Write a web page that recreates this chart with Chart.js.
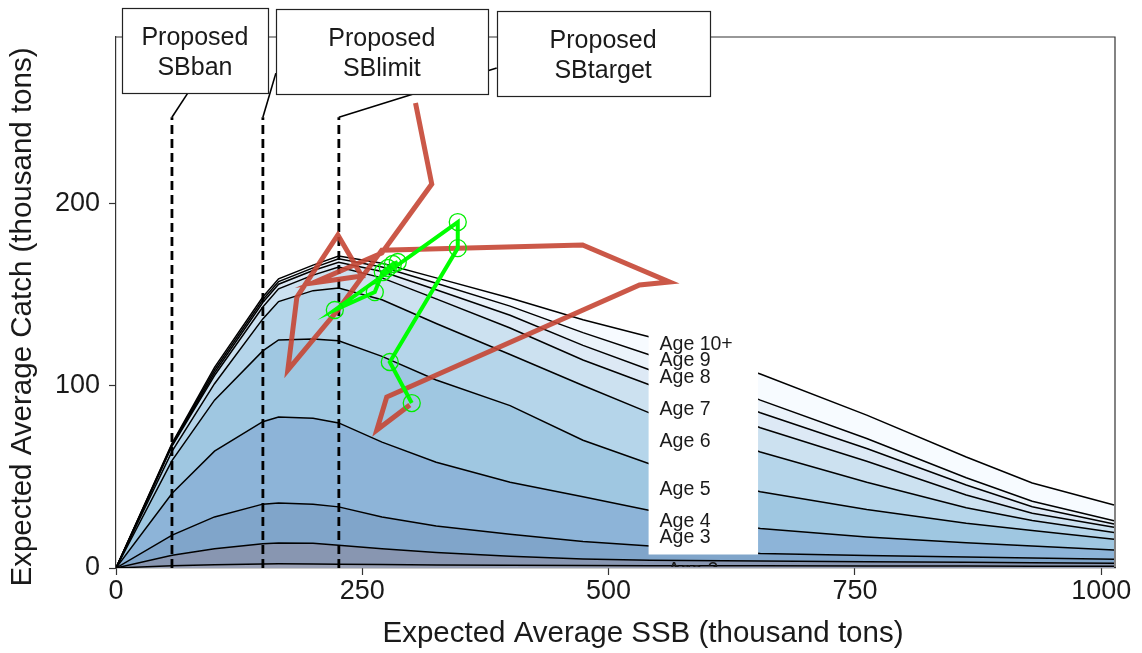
<!DOCTYPE html>
<html>
<head>
<meta charset="utf-8">
<script src="https://cdn.jsdelivr.net/npm/chart.js@4/dist/chart.umd.min.js"></script>
<style>
  html, body { margin: 0; padding: 0; background: #fff; }
  #wrap { width: 1142px; height: 653px; }
</style>
</head>
<body>
<div id="wrap"><canvas id="c" width="1142" height="653"></canvas></div>
<script>
// --- data (thousand tons) ---
const ssb = [0, 57, 100, 149, 165, 200, 226, 270, 325, 400, 474, 542, 654, 762, 863, 930, 1013];

// cumulative expected catch up to each age (bottom line = age 1 ... top line = age 10+)
const uptoAge1  = [0, 1.3, 1.8, 2.2, 2.3, 2.2, 2.1, 1.9, 1.7, 1.5, 1.4, 1.3, 1.2, 1.1, 1.05, 1.0, 1.0];
const uptoAge2  = [0, 7, 10.5, 13.3, 13.7, 13.5, 12.5, 10.5, 8.5, 6.5, 5, 4.3, 3.8, 3.4, 3.1, 2.9, 2.6];
const uptoAge3  = [0, 18, 28, 35, 35.6, 35, 33.5, 28, 23, 18.5, 14.5, 12, 8.0, 6.8, 6, 5.5, 4.8];
const uptoAge4  = [0, 41, 64, 80.2, 82.7, 82, 79.5, 69, 58, 47, 39, 31.5, 21.7, 17, 13.8, 12, 9.9];
const uptoAge5  = [0, 59, 92, 119, 125, 125.5, 124.5, 116, 103, 89, 70, 57, 41.8, 32, 24.5, 20.5, 15.7];
const uptoAge6  = [0, 64, 101, 136.5, 146, 152, 153.5, 147, 134, 117, 100, 84.9, 63.6, 47, 33, 26, 19.5];
const uptoAge7  = [0, 67, 105.5, 143, 153, 160.5, 165, 159, 147.5, 131.5, 114, 100.3, 76.9, 58.5, 40, 30, 22.3];
const uptoAge8  = [0, 67.3, 107, 145.5, 155.5, 163, 167.5, 162.5, 152.5, 138.5, 122, 108.5, 85.1, 65.5, 45.5, 33.6, 24.1];
const uptoAge9  = [0, 68, 108.5, 147, 157, 164.5, 169.5, 165, 156, 143.5, 129, 116.7, 92, 71, 49.5, 36.6, 25.9];
const uptoAge10 = [0, 68.5, 110, 148.5, 158.5, 166, 171, 167, 159, 148, 136, 126.6, 106.3, 83.8, 60.8, 46.6, 34.5];

const ageNames = ['Age 1', 'Age 2', 'Age 3', 'Age 4', 'Age 5', 'Age 6', 'Age 7', 'Age 8', 'Age 9', 'Age 10+'];

// observed trajectory (red) and projected trajectory (green)
const redSSB   = [304, 320.5, 269.8, 199.8, 249.5, 225.2, 183.6, 174.4, 225.2, 269.8, 473.6, 561.9, 531.4, 274.8, 264.7, 298.2];
const redCatch = [254.8, 210.4, 172.6, 156.2, 160, 182.5, 148.5, 108.5, 141.4, 174.2, 177, 156.7, 155.1, 93.7, 75.6, 89.3];
const greenSSB   = [286, 281, 275.9, 270.8, 262.7, 222.1, 346.9, 346.9, 277.9, 300.2];
const greenCatch = [167.7, 166.6, 164.4, 162.2, 151.2, 141.4, 189.6, 175.3, 112.9, 90.4];

// reference points
const refLabels = [['Proposed', 'SBban'], ['Proposed', 'SBlimit'], ['Proposed', 'SBtarget']];
const refSSB = [56.8, 149.1, 226.2];
const refTop = 247;
const refBoxX = [80.1, 269.8, 494.4];
const refBoxY = [283.8, 283.0, 281.9];
const refLinkX = [73.0, 162.3, 386.4];
const refLinkY = [260.4, 271.2, 274.0];

// age labels (Age 10+ down to Age 1)
const ageLabelX = 551.7;
const ageLabelY = [122.2, 113.4, 104.1, 86.6, 69, 42.7, 25.2, 16.4, -1.6, -3.0];
const ageLabelBox = [540.6, 651.7, 7.4, 127.7]; // x0, x1, y0, y1

const xTicks = [0, 250, 500, 750, 1000];
const yTicks = [0, 100, 200];

// --- styles ---
const FONT = '"Liberation Sans", Arial, sans-serif';
const bandColors = ['#9aa1b6', '#8896b1', '#80a5ca', '#8db4d8', '#9fc7e1', '#b5d5ea', '#cce1f0', '#dde9f5', '#ebf3fa', '#f7fbff'];
const boxW = [146, 212, 213];
const boxH = 85;

const uptoAll = [uptoAge1, uptoAge2, uptoAge3, uptoAge4, uptoAge5, uptoAge6, uptoAge7, uptoAge8, uptoAge9, uptoAge10];

const areaSets = [];
for (let i = uptoAll.length - 1; i >= 0; i--) {
  areaSets.push({
    label: ageNames[i],
    data: ssb.map((x, j) => ({ x: x, y: uptoAll[i][j] })),
    borderColor: '#000',
    borderWidth: 1.5,
    pointRadius: 0,
    backgroundColor: bandColors[i],
    fill: i === 0 ? 'origin' : '+1',
    tension: 0
  });
}

const dashSets = refSSB.map(x => ({
  data: [{ x: x, y: 0 }, { x: x, y: refTop }],
  borderColor: '#000',
  borderWidth: 2.8,
  borderDash: [9, 5],
  pointRadius: 0,
  fill: false
}));

const redSet = {
  data: redSSB.map((x, i) => ({ x: x, y: redCatch[i] })),
  borderColor: 'rgba(197,70,52,0.9)',
  borderWidth: 5,
  borderJoinStyle: 'miter',
  pointRadius: 0,
  fill: false
};

const greenSet = {
  data: greenSSB.map((x, i) => ({ x: x, y: greenCatch[i] })),
  borderColor: '#00ff00',
  borderWidth: 4,
  pointRadius: 8.5,
  pointBorderWidth: 1.3,
  pointBorderColor: '#00ee00',
  pointBackgroundColor: 'rgba(0,0,0,0)',
  fill: false
};

const panelBorder = {
  id: 'panelBorder',
  beforeDatasetsDraw(chart) {
    const { ctx, chartArea: a } = chart;
    ctx.save();
    ctx.strokeStyle = '#333';
    ctx.lineWidth = 1.2;
    ctx.beginPath();
    ctx.moveTo(a.left, a.top);
    ctx.lineTo(a.right, a.top);
    ctx.lineTo(a.right, a.bottom);
    ctx.stroke();
    ctx.restore();
  }
};

const annotations = {
  id: 'annotations',
  afterDraw(chart) {
    const { ctx, chartArea: a } = chart;
    const sx = chart.scales.x, sy = chart.scales.y;
    ctx.save();

    // white box behind the age labels
    const bx0 = sx.getPixelForValue(ageLabelBox[0]), bx1 = sx.getPixelForValue(ageLabelBox[1]);
    const by0 = sy.getPixelForValue(ageLabelBox[3]), by1 = sy.getPixelForValue(ageLabelBox[2]);
    ctx.fillStyle = '#fff';
    ctx.fillRect(bx0, by0, bx1 - bx0, by1 - by0);

    ctx.save();
    ctx.beginPath();
    ctx.rect(a.left, a.top, a.right - a.left, a.bottom - a.top - 1);
    ctx.clip();
    ctx.fillStyle = '#1a1a1a';
    ctx.font = '19.5px ' + FONT;
    ctx.textBaseline = 'middle';
    ctx.textAlign = 'left';
    const labelOrder = ageNames.slice().reverse();
    labelOrder.forEach((name, i) => {
      const lx = i < 8 ? ageLabelX : ageLabelX + 8 + (i - 8) * 3;
      ctx.fillText(name, sx.getPixelForValue(lx), sy.getPixelForValue(ageLabelY[i]));
    });
    ctx.restore();

    // connectors
    ctx.strokeStyle = '#000';
    ctx.lineWidth = 1.6;
    refSSB.forEach((x, i) => {
      ctx.beginPath();
      ctx.moveTo(sx.getPixelForValue(x), sy.getPixelForValue(refTop));
      ctx.lineTo(sx.getPixelForValue(refLinkX[i]), sy.getPixelForValue(refLinkY[i]));
      ctx.stroke();
    });

    // reference boxes
    ctx.font = '25px ' + FONT;
    ctx.textAlign = 'center';
    ctx.textBaseline = 'middle';
    refLabels.forEach((lines, i) => {
      const cx = sx.getPixelForValue(refBoxX[i]);
      const cy = sy.getPixelForValue(refBoxY[i]);
      const x0 = Math.round(cx - boxW[i] / 2) + 0.5, y0 = Math.round(cy - boxH / 2) + 0.5;
      ctx.fillStyle = '#fff';
      ctx.fillRect(x0, y0, boxW[i], boxH);
      ctx.strokeStyle = '#222';
      ctx.lineWidth = 1.2;
      ctx.strokeRect(x0, y0, boxW[i], boxH);
      ctx.fillStyle = '#1a1a1a';
      ctx.fillText(lines[0], cx, cy - 12);
      ctx.fillText(lines[1], cx, cy + 17.5);
    });

    // axis titles
    ctx.fillStyle = '#1a1a1a';
    ctx.font = '29.5px ' + FONT;
    ctx.fillText('Expected Average SSB (thousand tons)', 643, 634);
    ctx.translate(23, 317);
    ctx.rotate(-Math.PI / 2);
    ctx.fillText('Expected Average Catch (thousand tons)', 0, 0);
    ctx.restore();
  }
};

new Chart(document.getElementById('c'), {
  type: 'line',
  data: { datasets: [greenSet, redSet, ...dashSets, ...areaSets] },
  options: {
    responsive: false,
    animation: false,
    devicePixelRatio: 1,
    layout: { padding: { top: 37, right: 27, left: 0, bottom: 0 } },
    plugins: {
      legend: { display: false },
      tooltip: { enabled: false },
      filler: { drawTime: 'beforeDatasetsDraw' }
    },
    scales: {
      x: {
        type: 'linear', min: 0, max: 1014,
        afterBuildTicks: s => { s.ticks = xTicks.map(v => ({ value: v })); },
        afterFit: s => { s.height = 85; },
        grid: { drawOnChartArea: false, tickLength: 7, color: '#333', tickWidth: 1.2 },
        border: { display: true, color: '#333', width: 1.2 },
        ticks: {
          font: { family: FONT, size: 27 }, color: '#1a1a1a', padding: 0, maxRotation: 0, autoSkip: false,
          callback: v => String(v)
        }
      },
      y: {
        type: 'linear', min: 0, max: 291,
        afterBuildTicks: s => { s.ticks = yTicks.map(v => ({ value: v })); },
        afterFit: s => { s.width = 116; },
        grid: { drawOnChartArea: false, tickLength: 7, color: '#333', tickWidth: 1.2 },
        border: { display: true, color: '#333', width: 1.2 },
        ticks: { font: { family: FONT, size: 27 }, color: '#1a1a1a', padding: 9, callback: v => String(v) }
      }
    }
  },
  plugins: [panelBorder, annotations]
});
</script>
</body>
</html>
